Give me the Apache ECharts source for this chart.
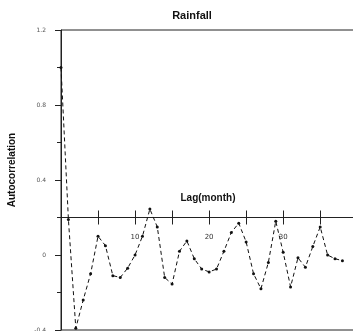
<!DOCTYPE html>
<html lang="en">
<head>
<meta charset="UTF-8">
<title>Rainfall</title>
<style>
  html, body { margin: 0; padding: 0; background: #fff; }
  #main { width: 353px; height: 331px; }
</style>
</head>
<body>
<div id="main"></div>
<script src="https://cdn.jsdelivr.net/npm/echarts@6/dist/echarts.min.js"></script>
<script>
// autocorrelation of rainfall
var lags = [0, 1, 2, 3, 4, 5, 6, 7, 8, 9, 10, 11, 12, 13, 14, 15, 16, 17, 18, 19,
            20, 21, 22, 23, 24, 25, 26, 27, 28, 29, 30, 31, 32, 33, 34, 35, 36, 37, 38];
var acf = [1.0, 0.19, -0.39, -0.24, -0.10, 0.10, 0.05, -0.11, -0.12, -0.07,
           0.0, 0.10, 0.245, 0.15, -0.12, -0.155, 0.02, 0.075, -0.02, -0.075,
           -0.09, -0.075, 0.02, 0.12, 0.17, 0.07, -0.10, -0.18, -0.04, 0.18,
           0.015, -0.17, -0.015, -0.065, 0.045, 0.15, 0.0, -0.02, -0.03];
var xLabels = [10, 20, 30];

var chart = echarts.init(document.getElementById('main'));
var axisColor = '#222';
var lagMax = 39.7;
// the lag axis crosses the plot at 0.2: y = 30 + (1.2 - 0.2) * 300 / 1.6
var crossY = 217.5;

var option = {
    animation: false,
    title: {
        text: 'Rainfall',
        left: 187,
        textAlign: 'center',
        top: 5,
        textStyle: { fontFamily: 'Liberation Sans', fontSize: 11, fontWeight: 'bold', color: '#111' }
    },
    grid: [
        { left: 61, right: -2, top: 30, bottom: 1, show: true, borderColor: axisColor, borderWidth: 1,
          outerBoundsMode: 'none', containLabel: false },
        { left: 61, right: -2, top: crossY - 20, height: 20, outerBoundsMode: 'none', containLabel: false },
        { left: 61, right: -2, top: crossY, height: 20, outerBoundsMode: 'none', containLabel: false }
    ],
    xAxis: [
        {
            gridIndex: 0, type: 'value', min: 0, max: lagMax, show: false
        },
        {
            gridIndex: 1, type: 'value', min: 0, max: lagMax, interval: 5, position: 'bottom',
            axisLine: { onZero: false, lineStyle: { color: axisColor } },
            axisTick: { length: 7, lineStyle: { color: axisColor } },
            axisLabel: {
                margin: 16, fontSize: 7, color: '#333', fontFamily: 'DejaVu Sans',
                formatter: function (v) { return xLabels.indexOf(v) >= 0 ? String(v) : ''; }
            },
            splitLine: { show: false }
        },
        {
            gridIndex: 2, type: 'value', min: 0, max: lagMax, interval: 5, position: 'top',
            name: 'Lag(month)', nameLocation: 'middle', nameGap: 14,
            nameTextStyle: { fontFamily: 'Liberation Sans', fontSize: 10, fontWeight: 'bold', color: '#111' },
            axisLine: { show: false, onZero: false },
            axisTick: { length: 7, lineStyle: { color: axisColor } },
            axisLabel: { show: false },
            splitLine: { show: false }
        }
    ],
    yAxis: [
        {
            gridIndex: 0, type: 'value', min: -0.4, max: 1.2, interval: 0.4,
            name: 'Autocorrelation', nameLocation: 'middle', nameGap: 44,
            nameTextStyle: { fontFamily: 'Liberation Sans', fontSize: 10, fontWeight: 'bold', color: '#111',
                             padding: [0, 0, 0, 20] },
            axisLine: { show: true, onZero: false, lineStyle: { color: axisColor } },
            axisTick: { show: true, length: 6, lineStyle: { color: axisColor } },
            minorTick: { show: true, splitNumber: 2, length: 4, lineStyle: { color: axisColor } },
            axisLabel: { margin: 15, fontSize: 6, color: '#555', fontFamily: 'DejaVu Sans' },
            splitLine: { show: false }
        },
        { gridIndex: 1, type: 'value', show: false },
        { gridIndex: 2, type: 'value', show: false }
    ],
    series: [
        {
            type: 'line',
            xAxisIndex: 0,
            yAxisIndex: 0,
            data: lags.map(function (l, i) { return [l, acf[i]]; }),
            symbol: 'circle',
            symbolSize: 3,
            itemStyle: { color: '#111' },
            lineStyle: { color: '#111', width: 1, type: [4, 3] }
        }
    ]
};

chart.setOption(option);
</script>
</body>
</html>
